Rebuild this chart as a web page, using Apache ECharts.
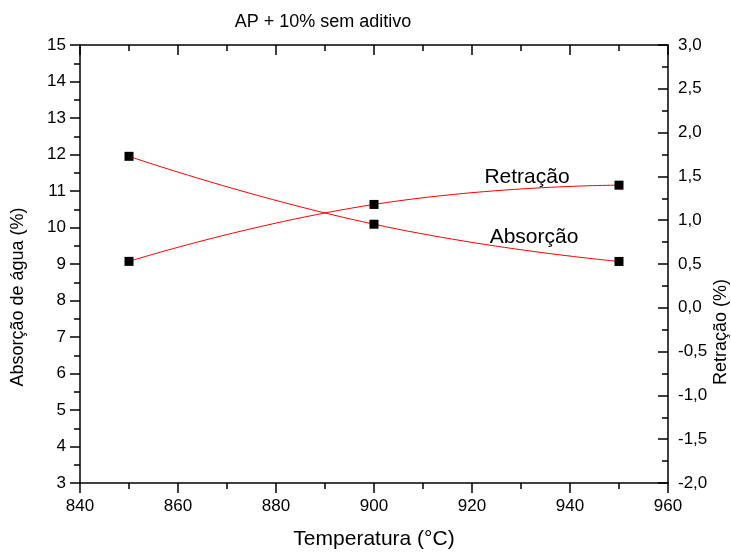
<!DOCTYPE html>
<html>
<head>
<meta charset="utf-8">
<script src="https://cdn.jsdelivr.net/npm/echarts@6/dist/echarts.min.js"></script>
<style>html,body{margin:0;padding:0;background:#fff}#c{width:731px;height:556px}</style>
</head>
<body>
<div id="c"></div>
<script>
var temperatures = [850, 900, 950];
var absorcao = [11.95, 10.09, 9.07];
var retracao = [0.53, 1.18, 1.40];
var titleText = 'AP + 10% sem aditivo';
var xName = 'Temperatura (°C)';
var leftName = 'Absorção de água (%)';
var rightName = 'Retração (%)';

var font = 'Liberation Sans, Arial, sans-serif';
var chart = echarts.init(document.getElementById('c'), null, {renderer: 'canvas'});
function pairs(xs, ys){ return xs.map(function(x,i){ return [x, ys[i]]; }); }
var axisLineStyle = {color:'#000', width:1.5};
chart.setOption({
  animation: false,
  backgroundColor: '#fff',
  title: {text: titleText, left: 318, top: 8, textAlign: 'center',
    textStyle: {fontFamily: font, fontSize: 18, fontWeight: 'normal', color: '#000'}},
  grid: {left: 80, right: 63, top: 45, bottom: 73, containLabel: false},
  xAxis: [{
    type: 'value', min: 840, max: 960, interval: 20, position: 'bottom',
    name: xName, nameLocation: 'middle', nameGap: 46,
    nameTextStyle: {fontFamily: font, fontSize: 21, color: '#000'},
    axisLine: {onZero: false, lineStyle: axisLineStyle},
    axisTick: {show: true, length: 10, lineStyle: axisLineStyle},
    minorTick: {show: true, splitNumber: 2, length: 6, lineStyle: {color:'#000', width:1.5}},
    axisLabel: {fontFamily: font, fontSize: 17, color: '#000', margin: 15},
    splitLine: {show: false}
  }, {
    type: 'value', min: 840, max: 960, interval: 20, position: 'top',
    axisLine: {onZero: false, lineStyle: axisLineStyle},
    axisTick: {show: true, inside: true, length: 10, lineStyle: axisLineStyle},
    minorTick: {show: true, splitNumber: 2, length: 6, lineStyle: {color:'#000', width:1.5}},
    axisLabel: {show: false},
    splitLine: {show: false}
  }],
  yAxis: [{
    type: 'value', min: 3, max: 15, interval: 1, position: 'left',
    axisLine: {show: true, onZero: false, lineStyle: axisLineStyle},
    axisTick: {show: true, length: 10, lineStyle: axisLineStyle},
    minorTick: {show: true, splitNumber: 2, length: 6, lineStyle: {color:'#000', width:1.5}},
    axisLabel: {fontFamily: font, fontSize: 17, color: '#000', margin: 14},
    splitLine: {show: false}
  }, {
    type: 'value', min: -2, max: 3, interval: 0.5, position: 'right',
    axisLine: {show: true, onZero: false, lineStyle: axisLineStyle},
    axisTick: {show: true, inside: true, length: 10, lineStyle: axisLineStyle},
    minorTick: {show: true, splitNumber: 2, length: 6, lineStyle: {color:'#000', width:1.5}},
    axisLabel: {fontFamily: font, fontSize: 17, color: '#000', margin: 10,
      formatter: function(v){ return v.toFixed(1).replace('.', ','); }},
    splitLine: {show: false}
  }],
  graphic: [
    {type: 'text', rotation: Math.PI/2, x: 18, y: 297, style: {text: leftName, font: '18px ' + font, fill: '#000', textAlign: 'center', textVerticalAlign: 'middle'}},
    {type: 'text', rotation: Math.PI/2, x: 721, y: 332, style: {text: rightName, font: '18px ' + font, fill: '#000', textAlign: 'center', textVerticalAlign: 'middle'}},
    {type: 'text', x: 527, y: 177, style: {text: 'Retração', font: '21px ' + font, fill: '#000', textAlign: 'center', textVerticalAlign: 'middle'}},
    {type: 'text', x: 534, y: 237, style: {text: 'Absorção', font: '21px ' + font, fill: '#000', textAlign: 'center', textVerticalAlign: 'middle'}}
  ],
  series: [{
    type: 'line', name: 'Absorção', xAxisIndex: 0, yAxisIndex: 0,
    data: pairs(temperatures, absorcao), smooth: 0.5,
    lineStyle: {color: '#ff0000', width: 1},
    symbol: 'rect', symbolSize: 9, itemStyle: {color: '#000'}, z: 3
  }, {
    type: 'line', name: 'Retração', xAxisIndex: 0, yAxisIndex: 1,
    data: pairs(temperatures, retracao), smooth: 0.5,
    lineStyle: {color: '#ff0000', width: 1},
    symbol: 'rect', symbolSize: 9, itemStyle: {color: '#000'}, z: 3
  }]
});
</script>
</body>
</html>
